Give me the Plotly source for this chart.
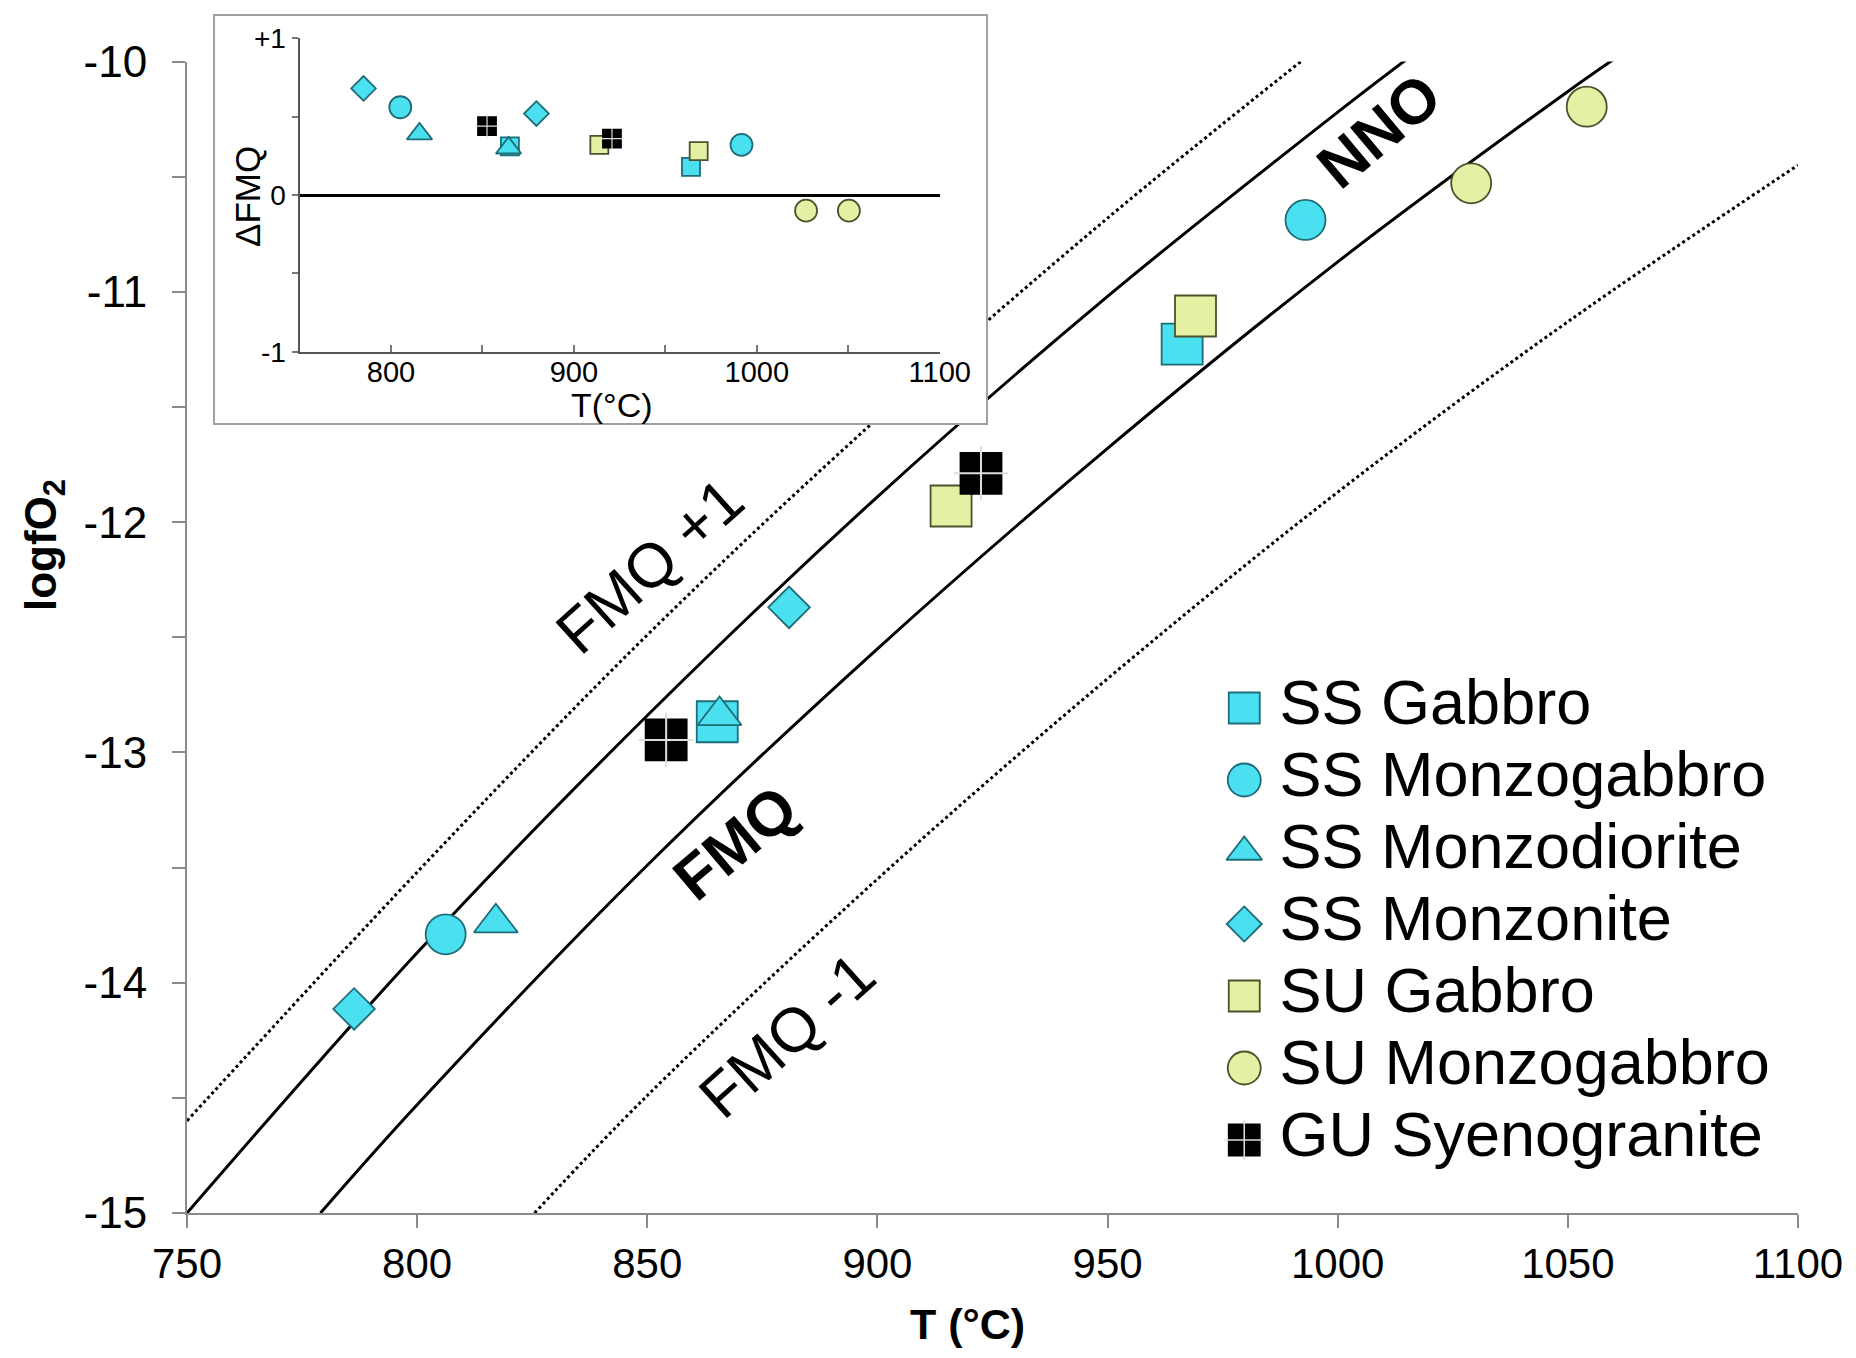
import plotly.graph_objects as go

# ---------------- data ----------------
categories = ["SS Gabbro", "SS Monzogabbro", "SS Monzodiorite", "SS Monzonite",
              "SU Gabbro", "SU Monzogabbro", "GU Syenogranite"]

# main diagram: T (°C) vs log fO2
ss_gabbro_T = [865.2, 966.2]
ss_gabbro_fo2 = [-12.867, -11.227]
ss_monzogabbro_T = [806.2, 993.0]
ss_monzogabbro_fo2 = [-13.79, -10.688]
ss_monzodiorite_T = [817.1, 865.7]
ss_monzodiorite_fo2 = [-13.74, -12.84]
ss_monzonite_T = [786.3, 880.8]
ss_monzonite_fo2 = [-14.114, -12.37]
su_gabbro_T = [916.0, 969.1]
su_gabbro_fo2 = [-11.93, -11.105]
su_monzogabbro_T = [1029.0, 1054.1]
su_monzogabbro_fo2 = [-10.529, -10.196]
gu_syenogranite_T = [854.1, 922.5]
gu_syenogranite_fo2 = [-12.946, -11.788]

# inset: T (°C) vs ΔFMQ
ss_gabbro_inset_T = [865.0, 964.0]
ss_gabbro_dfmq = [0.31, 0.18]
ss_monzogabbro_inset_T = [805.1, 991.6]
ss_monzogabbro_dfmq = [0.56, 0.32]
ss_monzodiorite_inset_T = [815.6, 864.3]
ss_monzodiorite_dfmq = [0.39, 0.30]
ss_monzonite_inset_T = [785.0, 879.5]
ss_monzonite_dfmq = [0.68, 0.52]
su_gabbro_inset_T = [913.9, 968.2]
su_gabbro_dfmq = [0.32, 0.28]
su_monzogabbro_inset_T = [1026.9, 1050.3]
su_monzogabbro_dfmq = [-0.10, -0.10]
gu_syenogranite_inset_T = [852.5, 920.8]
gu_syenogranite_dfmq = [0.44, 0.36]

# oxygen buffer curves
nno_T = [750, 800, 850, 900, 950, 1000, 1015]
nno_fo2 = [-15.0, -13.87, -12.84, -11.89, -11.02, -10.22, -9.99]
fmq_T = [779, 800, 850, 900, 950, 1000, 1050, 1060]
fmq_fo2 = [-15.0, -14.53, -13.49, -12.55, -11.68, -10.87, -10.13, -9.99]
fmq_p1_T = [750, 800, 850, 900, 950, 992]
fmq_p1_fo2 = [-14.6, -13.52, -12.49, -11.55, -10.68, -10.0]
fmq_m1_T = [825.5, 850, 900, 950, 1000, 1050, 1100]
fmq_m1_fo2 = [-15.0, -14.49, -13.55, -12.68, -11.87, -11.13, -10.45]

main_x_ticks = [750, 800, 850, 900, 950, 1000, 1050, 1100]
main_y_ticks = [-15, -14, -13, -12, -11, -10]
main_y_labels = ["-15", "-14", "-13", "-12", "-11", "-10"]
inset_x_ticks = [800, 900, 1000, 1100]
inset_x_labels = ["800", "900", "1000", "1100"]
inset_y_ticks = [-1, 0, 1]
inset_y_labels = ["-1", "0", "+1"]

# ---------------- styles ----------------
FONT = "Liberation Sans, Arial, Helvetica, sans-serif"
CYAN, CYAN_LINE = "#4ae0ef", "#1d6c78"
LIME, LIME_LINE = "#e4f0a3", "#48532c"
GRAY = "#8a8a8a"

styles = {
    "SS Gabbro": ("square", CYAN, CYAN_LINE),
    "SS Monzogabbro": ("circle", CYAN, CYAN_LINE),
    "SS Monzodiorite": ("triangle-up", CYAN, CYAN_LINE),
    "SS Monzonite": ("diamond", CYAN, CYAN_LINE),
    "SU Gabbro": ("square", LIME, LIME_LINE),
    "SU Monzogabbro": ("circle", LIME, LIME_LINE),
    "GU Syenogranite": ("square", "#000000", "#000000"),
}
main_size = {"square": 41, "circle": 40, "triangle-up": 38, "diamond": 32}
inset_size = {"square": 18, "circle": 22, "triangle-up": 22, "diamond": 19}
legend_size = {"square": 31, "circle": 33, "triangle-up": 31, "diamond": 27}

main_data = {
    "SS Gabbro": (ss_gabbro_T, ss_gabbro_fo2),
    "SS Monzogabbro": (ss_monzogabbro_T, ss_monzogabbro_fo2),
    "SS Monzodiorite": (ss_monzodiorite_T, ss_monzodiorite_fo2),
    "SS Monzonite": (ss_monzonite_T, ss_monzonite_fo2),
    "SU Gabbro": (su_gabbro_T, su_gabbro_fo2),
    "SU Monzogabbro": (su_monzogabbro_T, su_monzogabbro_fo2),
    "GU Syenogranite": (gu_syenogranite_T, gu_syenogranite_fo2),
}
inset_data = {
    "SS Gabbro": (ss_gabbro_inset_T, ss_gabbro_dfmq),
    "SS Monzogabbro": (ss_monzogabbro_inset_T, ss_monzogabbro_dfmq),
    "SS Monzodiorite": (ss_monzodiorite_inset_T, ss_monzodiorite_dfmq),
    "SS Monzonite": (ss_monzonite_inset_T, ss_monzonite_dfmq),
    "SU Gabbro": (su_gabbro_inset_T, su_gabbro_dfmq),
    "SU Monzogabbro": (su_monzogabbro_inset_T, su_monzogabbro_dfmq),
    "GU Syenogranite": (gu_syenogranite_inset_T, gu_syenogranite_dfmq),
}

fig = go.Figure()

# ---------------- buffer curves ----------------
for xs, ys, dash in [(fmq_p1_T, fmq_p1_fo2, "dot"), (nno_T, nno_fo2, "solid"),
                     (fmq_T, fmq_fo2, "solid"), (fmq_m1_T, fmq_m1_fo2, "dot")]:
    fig.add_trace(go.Scatter(
        x=xs, y=ys, mode="lines",
        line=dict(color="black", width=3, dash=dash, shape="spline"),
        showlegend=False, hoverinfo="skip", xaxis="x", yaxis="y"))


def add_points(name, xs, ys, sizes, xa, ya):
    sym, fill, edge = styles[name]
    s = sizes[sym]
    fig.add_trace(go.Scatter(
        x=xs, y=ys, mode="markers", name=name, showlegend=False,
        marker=dict(symbol=sym, size=s, color=fill, line=dict(color=edge, width=1.8)),
        xaxis=xa, yaxis=ya))
    if name == "GU Syenogranite":
        fig.add_trace(go.Scatter(
            x=xs, y=ys, mode="markers", showlegend=False, hoverinfo="skip",
            marker=dict(symbol="cross-thin", size=s - 2, color="#dddddd",
                        line=dict(color="#dddddd", width=max(1.2, s / 20))),
            xaxis=xa, yaxis=ya))


for name in categories:
    xs, ys = main_data[name]
    add_points(name, xs, ys, main_size, "x", "y")

# ---------------- inset frame (own subplot, masks what lies beneath) ----------------
fig.add_trace(go.Scatter(x=[0.5], y=[0.5], mode="markers", marker=dict(opacity=0, size=2),
                         showlegend=False, hoverinfo="skip", xaxis="x2", yaxis="y2"))

# ---------------- inset data ----------------
for name in categories:
    xs, ys = inset_data[name]
    add_points(name, xs, ys, inset_size, "x3", "y3")

# ---------------- legend (drawn as its own small panel) ----------------
legend_rows = list(range(len(categories)))
for i, name in enumerate(categories):
    add_points(name, [0.074], [legend_rows[i]], legend_size, "x4", "y4")
fig.add_trace(go.Scatter(
    x=[0.133] * len(categories), y=legend_rows, mode="text", text=categories,
    textposition="middle right", textfont=dict(family=FONT, size=63, color="black"),
    showlegend=False, hoverinfo="skip", xaxis="x4", yaxis="y4"))

# ---------------- layout ----------------
# the page body adds an 8 px offset; figure coordinates below are given in
# screenshot pixels and converted to the figure's own frame
OFF = 8
W, H = 1856 - 2 * OFF, 1358 - 2 * OFF
ML = 187 - OFF
MT = 10 - OFF
MR = W - (1798 - OFF)
MB = H - (1213 - OFF)
PW, PH = W - ML - MR, H - MT - MB


def px_x(p):
    return (p - OFF - ML) / PW


def px_y(p):
    return (H - MB - (p - OFF)) / PH


fig.update_layout(
    width=W, height=H,
    margin=dict(l=ML, r=MR, t=MT, b=MB, autoexpand=False),
    paper_bgcolor="white", plot_bgcolor="white",
    font=dict(family=FONT, color="black"),
    showlegend=False,
    xaxis=dict(domain=[0, 1], range=[750, 1100], anchor="y", automargin=False,
               showgrid=False, zeroline=False,
               showline=True, linecolor=GRAY, linewidth=2,
               ticks="outside", ticklen=13, tickwidth=2, tickcolor=GRAY,
               tickvals=main_x_ticks, ticktext=[str(v) for v in main_x_ticks],
               tickfont=dict(size=42, family=FONT, color="black")),
    yaxis=dict(domain=[0, px_y(61.5)], range=[-15, -10], anchor="x", automargin=False,
               showgrid=False, zeroline=False,
               showline=True, linecolor=GRAY, linewidth=2,
               ticks="outside", ticklen=13, tickwidth=2, tickcolor=GRAY,
               tickvals=main_y_ticks, ticktext=main_y_labels,
               minor=dict(ticks="outside", dtick=0.5, tick0=-15, ticklen=13,
                          tickwidth=2, tickcolor=GRAY, showgrid=False),
               tickfont=dict(size=44, family=FONT, color="black"), ticklabelstandoff=16),
    xaxis2=dict(domain=[px_x(215), px_x(986)], range=[0, 1], anchor="y2", automargin=False,
                showgrid=False, zeroline=False,
                showline=True, mirror=True, linecolor="#a0a0a0", linewidth=2,
                showticklabels=False, ticks=""),
    yaxis2=dict(domain=[px_y(423), px_y(16)], range=[0, 1], anchor="x2", automargin=False,
                showgrid=False, zeroline=False,
                showline=True, mirror=True, linecolor="#a0a0a0", linewidth=2,
                showticklabels=False, ticks=""),
    xaxis3=dict(domain=[px_x(299.5), px_x(939.8)], range=[750, 1100], anchor="y3",
                automargin=False, showgrid=False, zeroline=False,
                showline=True, linecolor="#555555", linewidth=2,
                ticks="inside", ticklen=7, tickwidth=1.5, tickcolor="#777777",
                tickvals=inset_x_ticks, ticktext=inset_x_labels,
                minor=dict(ticks="inside", dtick=50, tick0=750, ticklen=7,
                           tickwidth=1.5, tickcolor="#777777", showgrid=False),
                tickfont=dict(size=29, family=FONT, color="black"), ticklabelstandoff=-7),
    yaxis3=dict(domain=[px_y(351.7), px_y(38.3)], range=[-1, 1], anchor="x3",
                automargin=False, showgrid=False,
                zeroline=True, zerolinecolor="black", zerolinewidth=2.5,
                showline=True, linecolor="#555555", linewidth=2,
                ticks="outside", ticklen=6, tickwidth=1.5, tickcolor="#777777",
                tickvals=inset_y_ticks, ticktext=inset_y_labels,
                minor=dict(ticks="outside", dtick=0.5, tick0=-1, ticklen=6,
                           tickwidth=1.5, tickcolor="#777777", showgrid=False),
                tickfont=dict(size=28, family=FONT, color="black")),
    xaxis4=dict(domain=[px_x(1200), 1.0], range=[0, 1], anchor="y4", visible=False,
                automargin=False),
    yaxis4=dict(domain=[px_y(1176), px_y(672)], range=[6.5, -0.5], anchor="x4",
                visible=False, automargin=False),
)

# buffer labels
labels = [
    ("FMQ +1", 850.6, -12.19, -42, False),
    ("FMQ", 869.1, -13.39, -40, True),
    ("NNO", 1009.0, -10.30, -40, True),
    ("FMQ -1", 880.3, -14.23, -42, False),
]
for txt, lx, ly, ang, bold in labels:
    fig.add_annotation(x=lx, y=ly, xref="x", yref="y", text=f"<b>{txt}</b>" if bold else txt,
                       textangle=ang, showarrow=False, xanchor="center", yanchor="middle",
                       font=dict(size=62, family=FONT, color="black"))

# axis titles
fig.add_annotation(x=px_x(967), y=px_y(1324), xref="paper", yref="paper",
                   text="<b>T (°C)</b>", showarrow=False, xanchor="center", yanchor="middle",
                   font=dict(size=43, family=FONT, color="black"))
fig.add_annotation(x=px_x(44), y=px_y(545), xref="paper", yref="paper",
                   text="<b>logfO<sub>2</sub></b>", textangle=-90, showarrow=False,
                   xanchor="center", yanchor="middle",
                   font=dict(size=44, family=FONT, color="black"))
fig.add_annotation(x=px_x(247), y=px_y(197), xref="paper", yref="paper",
                   text="ΔFMQ", textangle=-90, showarrow=False,
                   xanchor="center", yanchor="middle",
                   font=dict(size=35, family=FONT, color="black"))
fig.add_annotation(x=px_x(612), y=px_y(405), xref="paper", yref="paper",
                   text="T(°C)", showarrow=False, xanchor="center", yanchor="middle",
                   font=dict(size=34, family=FONT, color="black"))

fig.write_html("out.html")
